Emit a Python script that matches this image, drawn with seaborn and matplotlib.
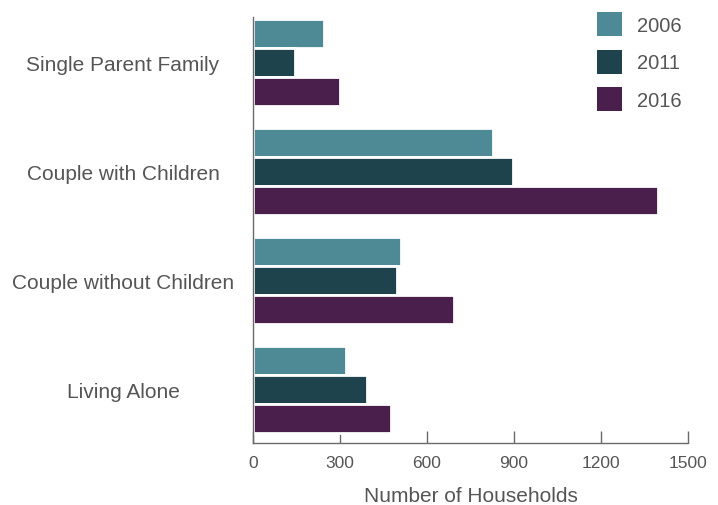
import matplotlib
matplotlib.use("Agg")
import matplotlib.pyplot as plt
import seaborn as sns
import pandas as pd

# Household composition counts by census year
categories = ["Single Parent Family", "Couple with Children",
              "Couple without Children", "Living Alone"]
years = ["2006", "2011", "2016"]
values_2006 = [245, 827, 511, 321]
values_2011 = [144, 897, 496, 392]
values_2016 = [300, 1398, 692, 477]
x_ticks = [0, 300, 600, 900, 1200, 1500]
palette = ["#4d8a96", "#1f434c", "#4a1f4b"]

sns.set_theme(style="white")
plt.rcParams["font.family"] = ["Liberation Sans", "DejaVu Sans"]
text_color = "#555555"
axis_color = "#6a6a6a"

rows = []
for year, vals in zip(years, [values_2006, values_2011, values_2016]):
    for cat, v in zip(categories, vals):
        rows.append({"Category": cat, "Year": year, "Households": v})
df = pd.DataFrame(rows)

fig = plt.figure(figsize=(7.18, 5.06), dpi=100)
ax = fig.add_axes([253 / 718, 1 - 444 / 506, (688 - 253) / 718, (444 - 18) / 506])

sns.barplot(data=df, y="Category", x="Households", hue="Year",
            order=categories, hue_order=years, palette=palette,
            orient="h", width=0.8, saturation=1, edgecolor="white",
            linewidth=2, ax=ax)

ax.set_xlim(0, 1500)
ax.set_ylim(3.49, -0.42)
ax.set_xticks(x_ticks)
ax.set_xticklabels([str(t) for t in x_ticks], fontsize=12.5, color=text_color)
ax.set_xlabel("Number of Households", fontsize=15, color=text_color, labelpad=11)
ax.set_ylabel("")

ax.tick_params(axis="x", direction="in", length=9, width=1, color=axis_color, pad=9,
               bottom=True)
ax.tick_params(axis="y", length=0, pad=93.6)
for lab in ax.get_yticklabels():
    lab.set_horizontalalignment("center")
    lab.set_fontsize(15)
    lab.set_color(text_color)

for side in ["top", "right"]:
    ax.spines[side].set_visible(False)
for side in ["left", "bottom"]:
    ax.spines[side].set_color(axis_color)
    ax.spines[side].set_linewidth(1)
    ax.spines[side].set_zorder(5)

handles, labels = ax.get_legend_handles_labels()
ax.get_legend().remove()
for h in handles:
    h.set_edgecolor("none")
fig.legend(handles, labels, loc="upper left",
           bbox_to_anchor=(587 / 718, 1 - 3 / 506), frameon=False,
           fontsize=14.5, labelcolor=text_color, borderpad=0,
           handlelength=1.25, handleheight=1.45, handletextpad=0.75,
           labelspacing=0.68)

fig.savefig("out.png", dpi=100)
